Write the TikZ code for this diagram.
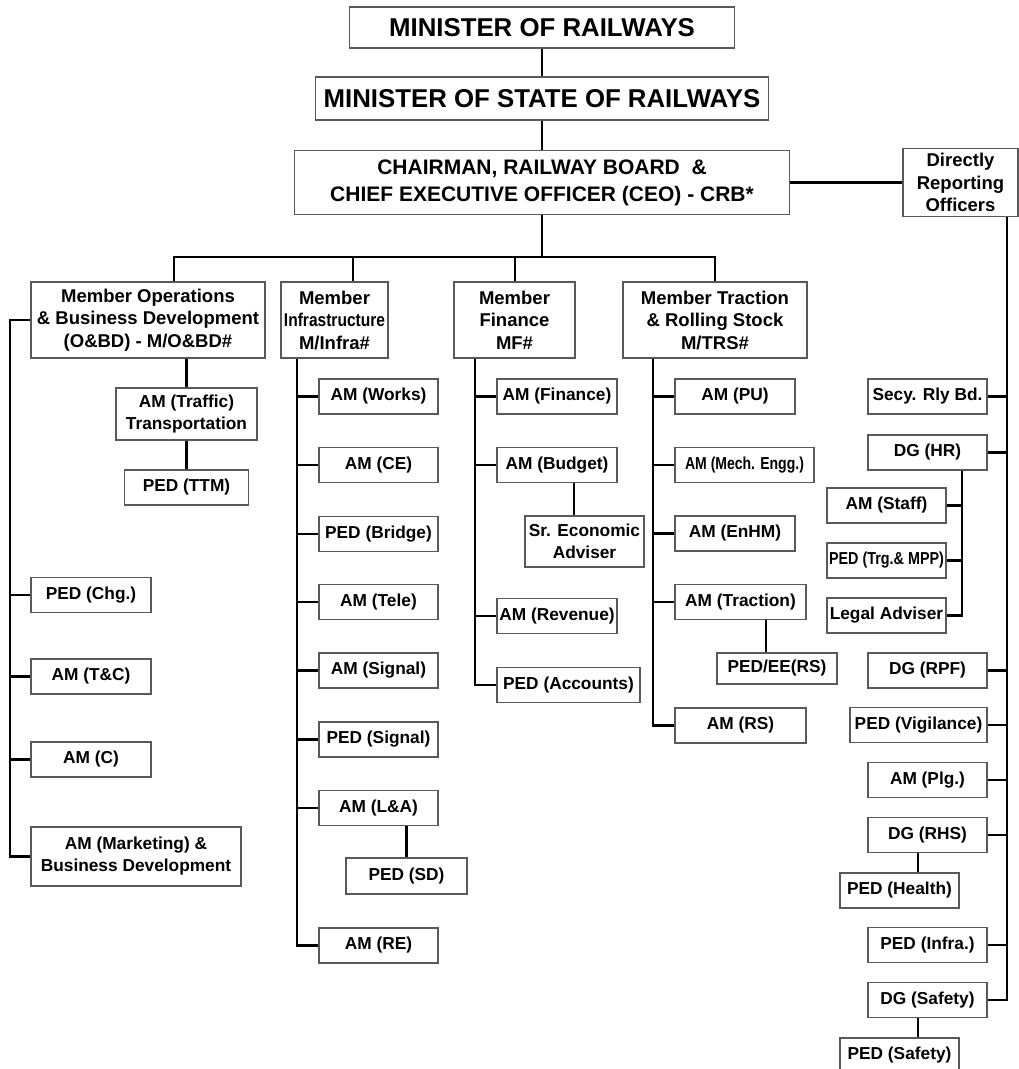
\documentclass[tikz,border=0pt]{standalone}
\usepackage{fontspec}
\setmainfont{Liberation Sans}
\usepackage{graphicx}

\tikzset{
  box/.style={draw=black!65, line width=1.2pt, fill=white, inner sep=0pt, align=center,
    minimum height=35pt, font=\fontsize{17.3}{22}\selectfont\bfseries},
  memberbox/.style={box, minimum height=76pt, font=\fontsize{18.5}{22.5}\selectfont\bfseries},
  titlebox/.style={box, font=\fontsize{25.8}{30}\selectfont\bfseries},
  link/.style={line width=2.8pt},
}

\begin{document}
\begin{tikzpicture}[x=1pt, y=-1pt]
\useasboundingbox (0,0) rectangle (1019,1069);

% top
\node[titlebox, minimum width=385pt, minimum height=41pt] (mor) at (542,27.5) {MINISTER OF RAILWAYS};
\node[titlebox, minimum width=453pt, minimum height=43pt] (mos) at (542,98.5) {MINISTER OF STATE OF RAILWAYS};
\node[box, minimum width=495pt, minimum height=64pt, font=\fontsize{21}{27}\selectfont\bfseries] (crb) at (542,182.5)
  {CHAIRMAN, RAILWAY BOARD \ \&\\CHIEF EXECUTIVE OFFICER (CEO) - CRB*};
\node[memberbox, minimum width=115pt, minimum height=68pt] (dro) at (960.5,182.5) {Directly\\Reporting\\Officers};

\draw[link] (mor) -- (mos);
\draw[link] (mos) -- (crb);
\draw[link] (crb) -- (dro);

% members
\node[memberbox, minimum width=234pt] (mobd) at (148,320) {Member Operations\\\& Business Development\\(O\&BD) - M/O\&BD\#};
\node[memberbox, minimum width=107pt] (minf) at (334.5,320) {Member\\\scalebox{0.84}[1]{Infrastructure}\\M/Infra\#};
\node[memberbox, minimum width=121pt] (mf) at (514.5,320) {Member\\Finance\\MF\#};
\node[memberbox, minimum width=184pt] (mtrs) at (715,320) {Member Traction\\\& Rolling Stock\\M/TRS\#};

\coordinate (d1) at (174,257);
\coordinate (d2) at (353,257);
\coordinate (d3) at (515,257);
\coordinate (d4) at (715,257);
\draw[link] (crb.south) -- (crb.south |- d1);
\draw[link] (d1 |- mobd.north) -- (d1) -- (d4) -- (d4 |- mtrs.north);
\draw[link] (d2) -- (d2 |- minf.north);
\draw[link] (d3) -- (d3 |- mf.north);

% operations & business development
\node[box, minimum width=141pt, minimum height=52pt] (traf) at (186.5,414) {AM (Traffic)\\Transportation};
\node[box, minimum width=124pt] (ttm) at (186.5,487.5) {PED (TTM)};
\draw[link] (traf.north |- mobd.south) -- (traf.north);
\draw[link] (traf) -- (ttm);

\foreach \n/\y/\t in {chg/595/PED (Chg.), tc/676.5/AM (T\&C), amc/759.5/AM (C)}
  \node[box, minimum width=120pt] (\n) at (91,\y) {\t};
\node[box, minimum width=210pt, minimum height=59pt] (mkt) at (136,856.5) {AM (Marketing) \&\\Business Development};

\coordinate (osp) at (10,0);
\draw[link] (mobd.west) -- (osp |- mobd.west) -- (osp |- mkt.west) -- (mkt.west);
\foreach \n in {chg,tc,amc} \draw[link] (osp |- \n.west) -- (\n.west);

% infrastructure
\foreach \n/\y/\t in {iwk/396.5/AM (Works), ice/465/AM (CE), ibr/534/PED (Bridge), ite/602/AM (Tele),
    isg/670.5/AM (Signal), ips/739.5/PED (Signal), ila/808/AM (L\&A), ire/945.5/AM (RE)}
  \node[box, minimum width=119pt] (\n) at (378.5,\y) {\t};
\node[box, minimum width=121pt, minimum height=36pt] (isd) at (406.5,876) {PED (SD)};

\coordinate (isp) at (297,0);
\draw[link] (isp |- minf.south) -- (isp |- ire.west) -- (ire.west);
\foreach \n in {iwk,ice,ibr,ite,isg,ips,ila} \draw[link] (isp |- \n.west) -- (\n.west);
\draw[link] (isd.north |- ila.south) -- (isd.north);

% finance
\foreach \n/\y/\t in {fin/396.5/AM (Finance), bud/465/AM (Budget), rev/616/AM (Revenue)}
  \node[box, minimum width=120pt] (\n) at (557,\y) {\t};
\node[box, minimum width=143pt] (acc) at (568.5,685) {PED (Accounts)};
\node[box, minimum width=119pt, minimum height=51pt] (sea) at (584.5,541.5) {Sr. Economic\\Adviser};

\coordinate (fsp) at (475,0);
\draw[link] (fsp |- mf.south) -- (fsp |- acc.west) -- (acc.west);
\foreach \n in {fin,bud,rev} \draw[link] (fsp |- \n.west) -- (\n.west);
\draw[link] ([xshift=17pt]bud.south) -- ([xshift=17pt]bud.south |- sea.north);

% traction & rolling stock
\node[box, minimum width=120pt] (pu) at (735,396.5) {AM (PU)};
\node[box, minimum width=139pt] (mech) at (744.5,465) {\scalebox{0.81}[1]{AM (Mech. Engg.)}};
\node[box, minimum width=120pt] (enhm) at (735,533.5) {AM (EnHM)};
\node[box, minimum width=131pt] (trac) at (740.5,602) {AM (Traction)};
\node[box, minimum width=120pt, minimum height=31pt] (ee) at (777,668.5) {PED/EE(RS)};
\node[box, minimum width=131pt] (ars) at (740.5,725.5) {AM (RS)};

\coordinate (tsp) at (653,0);
\draw[link] (tsp |- mtrs.south) -- (tsp |- ars.west) -- (ars.west);
\foreach \n in {pu,mech,enhm,trac} \draw[link] (tsp |- \n.west) -- (\n.west);
\draw[link] ([xshift=25.5pt]trac.south) -- ([xshift=25.5pt]trac.south |- ee.north);

% directly reporting officers
\foreach \n/\y/\t in {sec/396.5/Secy. Rly Bd., dhr/452.5/DG (HR), rpf/670.5/DG (RPF), plg/780/AM (Plg.),
    rhs/835/DG (RHS), pin/945/PED (Infra.), dsaf/1000/DG (Safety)}
  \node[box, minimum width=119pt] (\n) at (927.5,\y) {\t};
\node[box, minimum width=137pt] (vig) at (918.5,725) {PED (Vigilance)};
\node[box, minimum width=119pt] (phe) at (899.5,890.5) {PED (Health)};
\node[box, minimum width=119pt] (psaf) at (899.5,1055.5) {PED (Safety)};

\foreach \n/\y/\t in {stf/505.5/AM (Staff), trg/560.5/\scalebox{0.83}[1]{PED (Trg.\& MPP)}, leg/615.5/Legal Adviser}
  \node[box, minimum width=119pt] (\n) at (886.5,\y) {\t};

\coordinate (rsp) at (1007,0);
\draw[link] (rsp |- dro.south) -- (rsp |- dsaf.east) -- (dsaf.east);
\foreach \n in {sec,dhr,rpf,vig,plg,rhs,pin} \draw[link] (\n.east) -- (rsp |- \n.east);

\coordinate (hsp) at (962,0);
\draw[link] (hsp |- dhr.south) -- (hsp |- leg.east) -- (leg.east);
\foreach \n in {stf,trg} \draw[link] (\n.east) -- (hsp |- \n.east);

\draw[link] ([xshift=-9.5pt]rhs.south) -- ([xshift=-9.5pt]rhs.south |- phe.north);
\draw[link] ([xshift=-9.5pt]dsaf.south) -- ([xshift=-9.5pt]dsaf.south |- psaf.north);

\end{tikzpicture}
\end{document}
